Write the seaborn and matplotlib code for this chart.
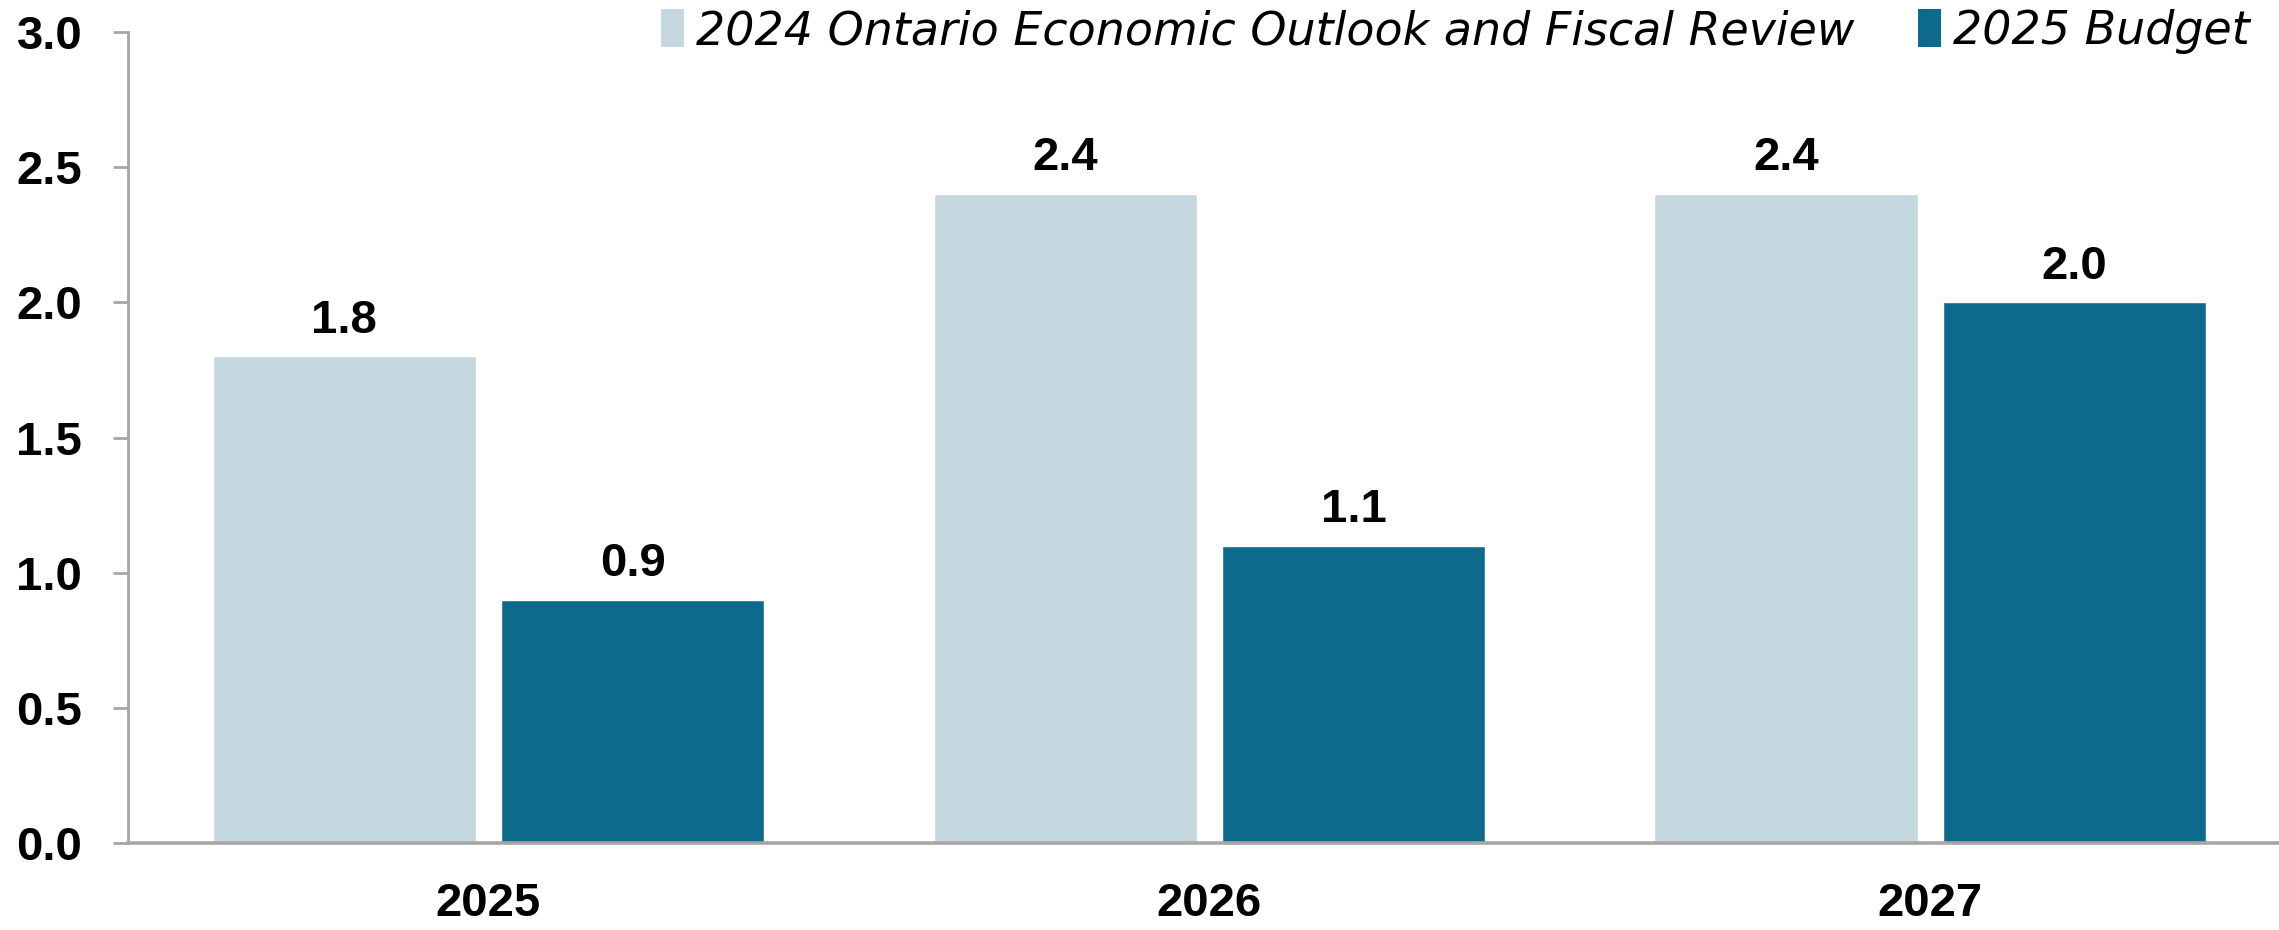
import matplotlib
matplotlib.use("Agg")
import matplotlib.pyplot as plt
from matplotlib.patches import Patch
import seaborn as sns
import pandas as pd

# Real GDP growth projections (per cent)
years = ["2025", "2026", "2027"]
series_names = ["2024 Ontario Economic Outlook and Fiscal Review", "2025 Budget"]
fall_statement = [1.8, 2.4, 2.4]
budget_2025 = [0.9, 1.1, 2.0]
y_ticks = [0.0, 0.5, 1.0, 1.5, 2.0, 2.5, 3.0]

colors = ["#C5D8DF", "#0E6A8C"]

df = pd.DataFrame({
    "year": years * 2,
    "series": [series_names[0]] * 3 + [series_names[1]] * 3,
    "value": fall_statement + budget_2025,
})

sns.set_theme(style="white")
plt.rcParams["font.family"] = ["Liberation Sans", "DejaVu Sans"]
plt.rcParams["text.color"] = "black"

fig = plt.figure(figsize=(22.79, 9.30), dpi=100)
ax = fig.add_axes([0.0562, 0.0935, 0.9438, 0.872])

sns.barplot(data=df, x="year", y="value", hue="series", hue_order=series_names,
            palette=colors, width=0.8, gap=0.0875, saturation=1,
            legend=False, ax=ax)

ax.set_xlim(-0.5, 2.484)
ax.set_ylim(0, 3.0)
ax.set_yticks(y_ticks)
ax.set_yticklabels([f"{v:.1f}" for v in y_ticks])
ax.set_xlabel("")
ax.set_ylabel("")

for side in ["top", "right"]:
    ax.spines[side].set_visible(False)
ax.spines["left"].set_color("#A6A6A6")
ax.spines["left"].set_linewidth(2)
ax.spines["bottom"].set_color("#A6A6A6")
ax.spines["bottom"].set_linewidth(2.6)

ax.tick_params(axis="y", which="major", left=True, length=11, width=2,
               color="#A6A6A6", pad=22, labelsize=34)
ax.tick_params(axis="x", which="major", bottom=False, length=0, pad=28,
               labelsize=34)
for lab in ax.get_yticklabels() + ax.get_xticklabels():
    lab.set_fontweight("bold")
    lab.set_color("black")

for cont in ax.containers:
    ax.bar_label(cont, fmt="%.1f", padding=10, fontsize=34,
                 fontweight="bold", color="black")

handles = [Patch(facecolor=c, edgecolor="none") for c in colors]
leg = ax.legend(handles, series_names, ncol=2, frameon=False,
                loc="center right", bbox_to_anchor=(0.987, 0.966),
                bbox_transform=fig.transFigure,
                handlelength=0.5, handleheight=0.9, handletextpad=0.25,
                columnspacing=1.4, borderaxespad=0, borderpad=0,
                labelcolor="black",
                prop={"family": "DejaVu Sans", "style": "italic", "size": 33})

fig.savefig("out.png", dpi=100, facecolor="white")
